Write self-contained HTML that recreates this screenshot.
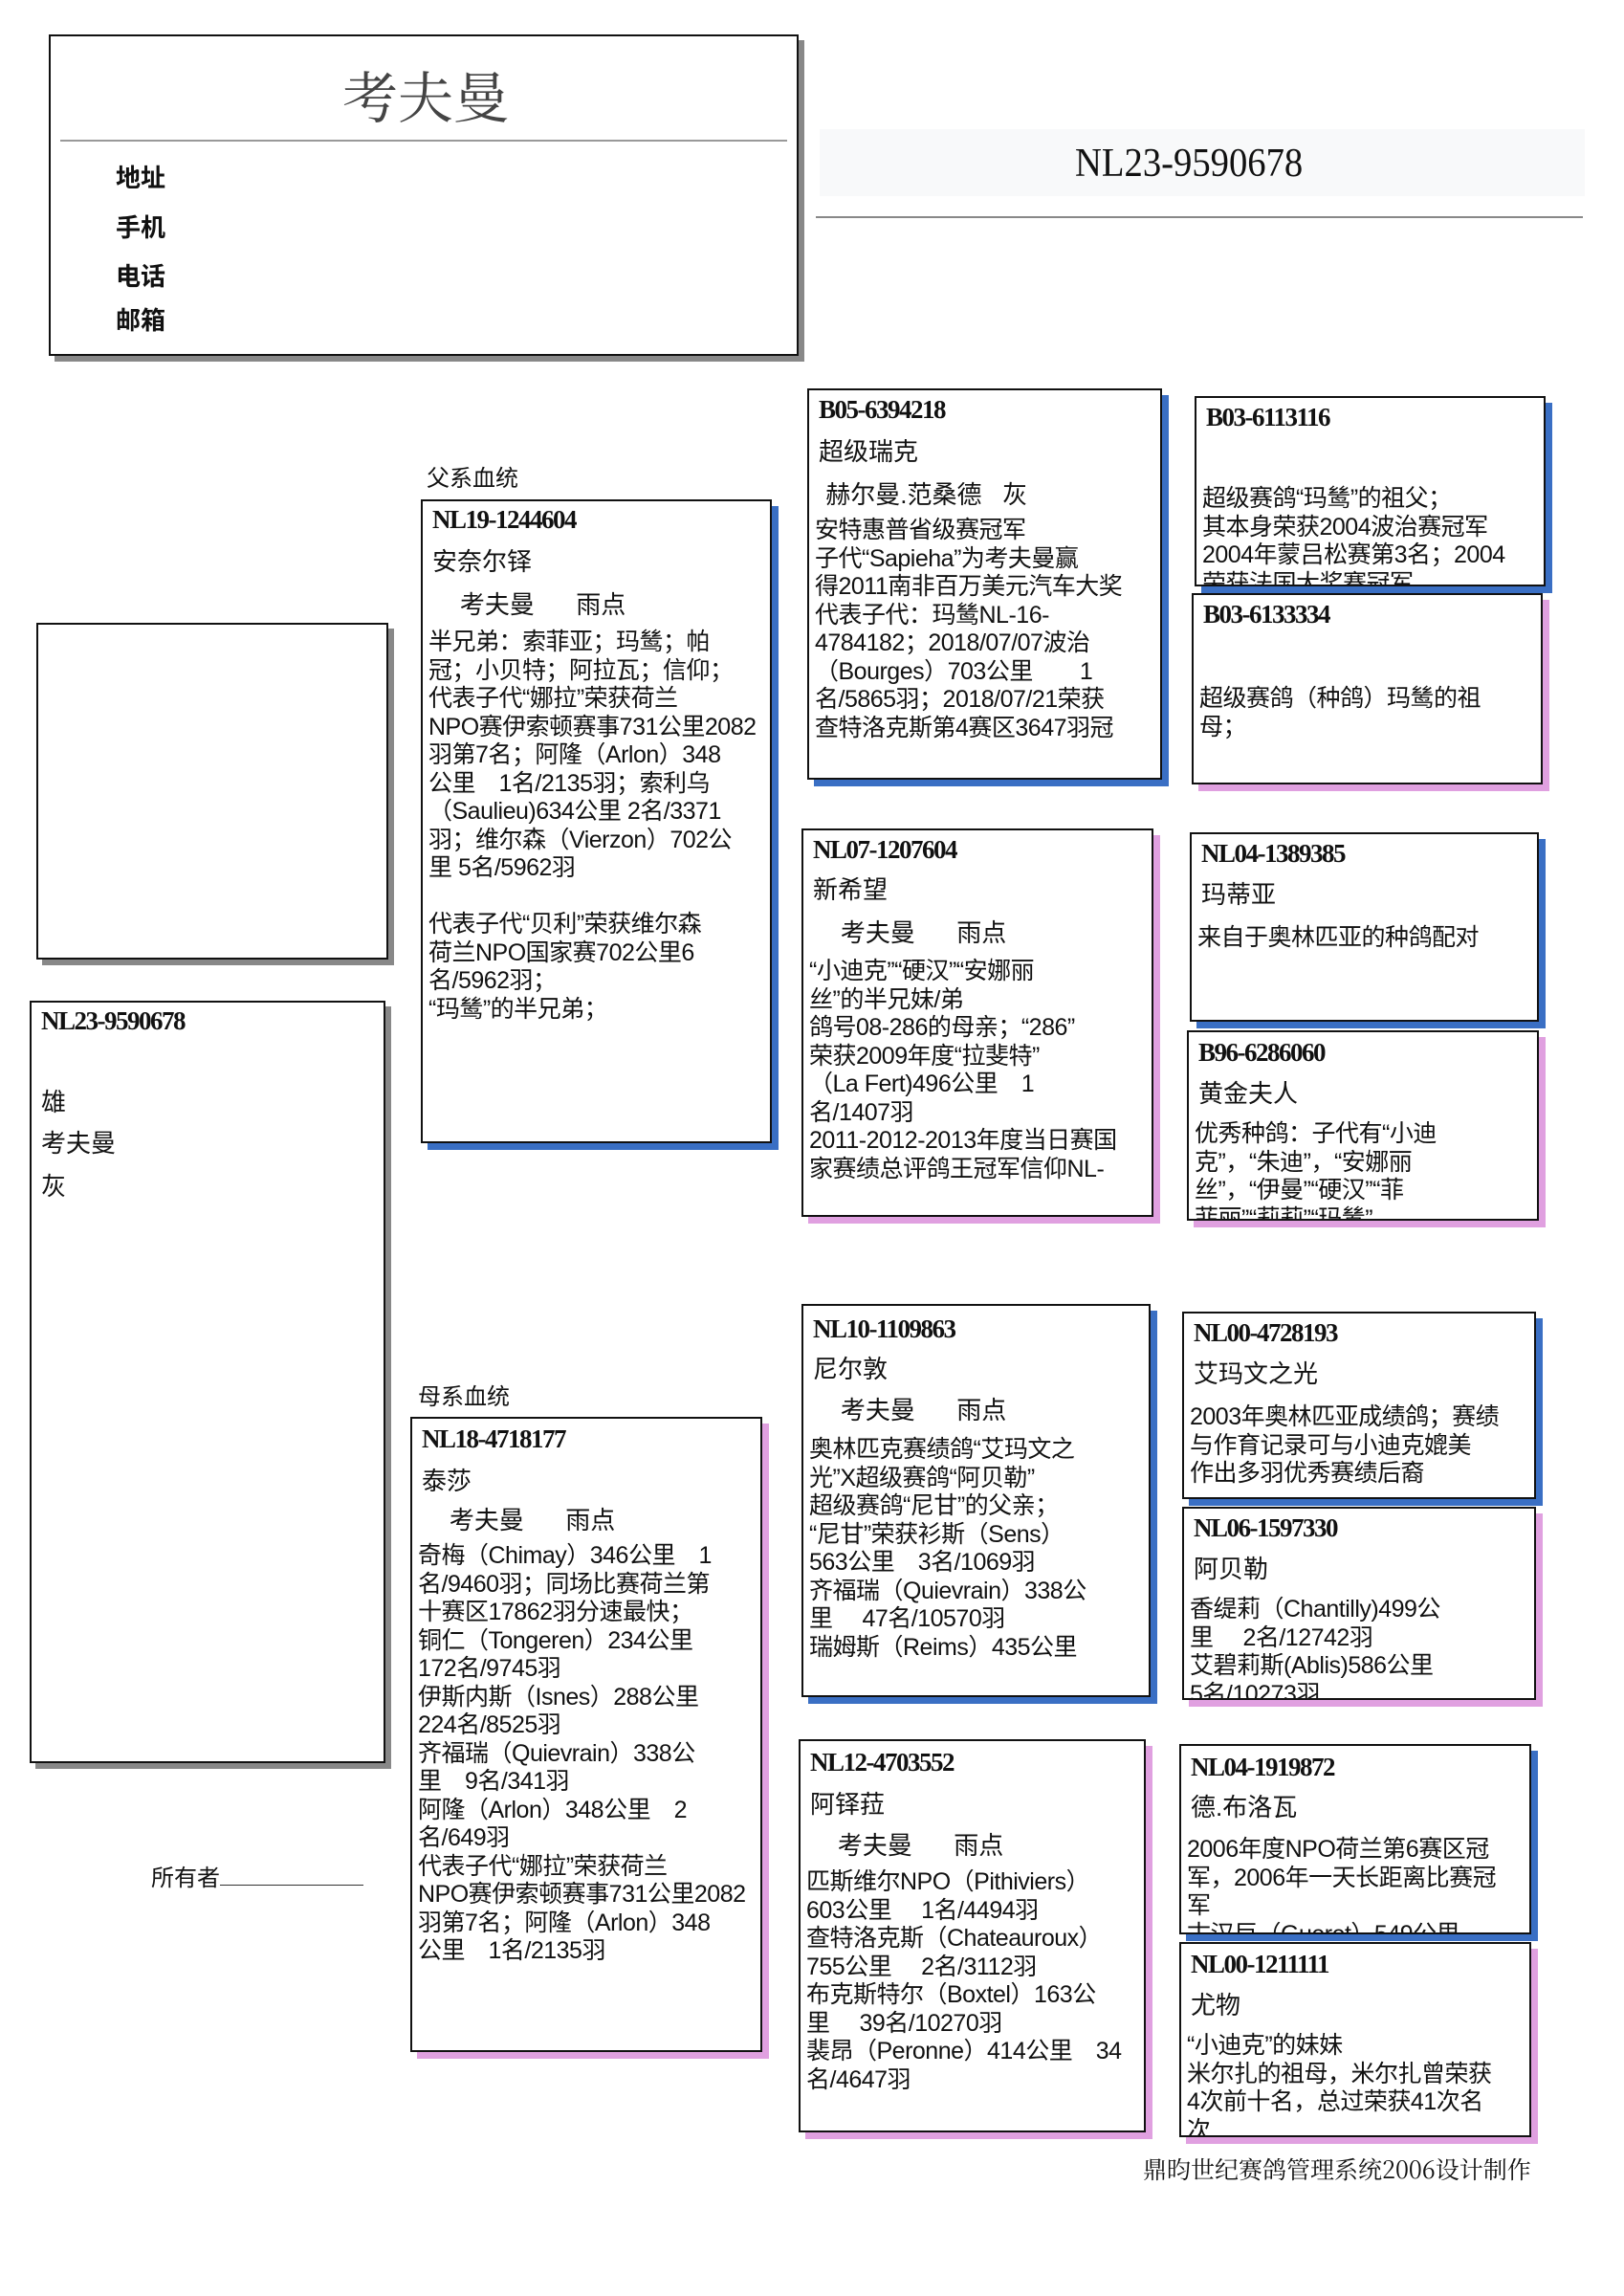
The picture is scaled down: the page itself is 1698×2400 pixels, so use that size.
<!DOCTYPE html>
<html><head><meta charset="utf-8"><style>
html,body{margin:0;padding:0;background:#fff;}
body{width:1698px;height:2400px;position:relative;overflow:hidden;font-family:"Liberation Sans","Noto Sans CJK SC",sans-serif;color:#111;}
.a{position:absolute;white-space:nowrap;}
.box{position:absolute;border:2px solid #111;background:#fff;overflow:hidden;box-sizing:border-box;}
.bl{box-shadow:7px 7px 0 #3a6fc4;}
.pk{box-shadow:7px 7px 0 #e0a0e0;}
.gr{box-shadow:6px 6px 0 #888;}
.box .t{position:absolute;left:10px;font:bold 27px/30px "Liberation Serif","Noto Sans CJK SC",serif;letter-spacing:-1.5px;}
.box .n{position:absolute;left:10px;font-size:26px;line-height:30px;white-space:nowrap;}
.box .x{position:absolute;left:6px;font-size:25px;line-height:29.5px;white-space:nowrap;letter-spacing:-0.5px;}
</style></head><body>

<!-- header -->
<div class="box gr" style="left:51px;top:36px;width:784px;height:336px;">
  <div class="a" style="left:305px;top:18px;font-size:58px;color:#444;font-family:'Noto Serif CJK SC',serif;">考夫曼</div>
  <div class="a" style="left:10px;top:108px;width:760px;border-top:2px solid #999;"></div>
  <div class="a" style="left:68px;top:133px;font-size:26px;font-weight:bold;line-height:30px;">地址</div>
  <div class="a" style="left:68px;top:185px;font-size:26px;font-weight:bold;line-height:30px;">手机</div>
  <div class="a" style="left:68px;top:236px;font-size:26px;font-weight:bold;line-height:30px;">电话</div>
  <div class="a" style="left:68px;top:282px;font-size:26px;font-weight:bold;line-height:30px;">邮箱</div>
</div>
<div class="a" style="left:857px;top:135px;width:800px;height:70px;background:#f8f9fa;"></div>
<div class="a" style="left:1124px;top:146px;font:42px/50px 'Liberation Serif',serif;transform:scaleX(0.92);transform-origin:left;">NL23-9590678</div>
<div class="a" style="left:853px;top:226px;width:802px;border-top:2px solid #888;"></div>

<!-- photo + info -->
<div class="box gr" style="left:38px;top:651px;width:368px;height:352px;"></div>
<div class="box gr" style="left:31px;top:1046px;width:372px;height:797px;">
  <div class="t" style="top:4px;">NL23-9590678</div>
  <div class="n" style="top:89px;">雄</div>
  <div class="n" style="top:132px;">考夫曼</div>
  <div class="n" style="top:177px;">灰</div>
</div>
<div class="a" style="left:158px;top:1943px;font-size:24px;">所有者<span style="display:inline-block;width:150px;border-bottom:1px solid #333;"></span></div>

<div class="a" style="left:446px;top:480px;font-size:24px;">父系血统</div>
<div class="box bl" style="left:440px;top:522px;width:367px;height:673px;">
  <div class="t" style="top:4px;">NL19-1244604</div>
  <div class="n" style="top:48px;">安奈尔铎</div>
  <div class="n" style="top:93px;">&nbsp;&nbsp;&nbsp;&nbsp;考夫曼&nbsp;&nbsp;&nbsp;&nbsp;&nbsp;&nbsp;雨点</div>
  <div class="x" style="top:133px;">半兄弟：索菲亚；玛鸶；帕<br>冠；小贝特；阿拉瓦；信仰；<br>代表子代“娜拉”荣获荷兰<br>NPO赛伊索顿赛事731公里2082<br>羽第7名；阿隆（Arlon）348<br>公里　1名/2135羽；索利乌<br>（Saulieu)634公里 2名/3371<br>羽；维尔森（Vierzon）702公<br>里 5名/5962羽<br><br>代表子代“贝利”荣获维尔森<br>荷兰NPO国家赛702公里6<br>名/5962羽；<br>“玛鸶”的半兄弟；</div>
</div>

<div class="a" style="left:437px;top:1440px;font-size:24px;">母系血统</div>
<div class="box pk" style="left:429px;top:1481px;width:368px;height:664px;">
  <div class="t" style="top:6px;">NL18-4718177</div>
  <div class="n" style="top:50px;">泰莎</div>
  <div class="n" style="top:91px;">&nbsp;&nbsp;&nbsp;&nbsp;考夫曼&nbsp;&nbsp;&nbsp;&nbsp;&nbsp;&nbsp;雨点</div>
  <div class="x" style="top:129px;">奇梅（Chimay）346公里　1<br>名/9460羽；同场比赛荷兰第<br>十赛区17862羽分速最快；<br>铜仁（Tongeren）234公里<br>172名/9745羽<br>伊斯内斯（Isnes）288公里<br>224名/8525羽<br>齐福瑞（Quievrain）338公<br>里　9名/341羽<br>阿隆（Arlon）348公里　2<br>名/649羽<br>代表子代“娜拉”荣获荷兰<br>NPO赛伊索顿赛事731公里2082<br>羽第7名；阿隆（Arlon）348<br>公里　1名/2135羽</div>
</div>

<!-- grandparents -->
<div class="box bl" style="left:844px;top:406px;width:371px;height:409px;">
  <div class="t" style="top:5px;">B05-6394218</div>
  <div class="n" style="top:49px;">超级瑞克</div>
  <div class="n" style="top:94px;">&nbsp;赫尔曼.范桑德&nbsp;&nbsp;&nbsp;灰</div>
  <div class="x" style="top:132px;">安特惠普省级赛冠军<br>子代“Sapieha”为考夫曼赢<br>得2011南非百万美元汽车大奖<br>代表子代：玛鸶NL-16-<br>4784182；2018/07/07波治<br>（Bourges）703公里　　1<br>名/5865羽；2018/07/21荣获<br>查特洛克斯第4赛区3647羽冠</div>
</div>
<div class="box pk" style="left:838px;top:866px;width:368px;height:406px;">
  <div class="t" style="top:5px;">NL07-1207604</div>
  <div class="n" style="top:47px;">新希望</div>
  <div class="n" style="top:92px;">&nbsp;&nbsp;&nbsp;&nbsp;考夫曼&nbsp;&nbsp;&nbsp;&nbsp;&nbsp;&nbsp;雨点</div>
  <div class="x" style="top:133px;">“小迪克”“硬汉”“安娜丽<br>丝”的半兄妹/弟<br>鸽号08-286的母亲；“286”<br>荣获2009年度“拉斐特”<br>（La Fert)496公里　1<br>名/1407羽<br>2011-2012-2013年度当日赛国<br>家赛绩总评鸽王冠军信仰NL-</div>
</div>
<div class="box bl" style="left:838px;top:1363px;width:365px;height:411px;">
  <div class="t" style="top:9px;">NL10-1109863</div>
  <div class="n" style="top:51px;">尼尔敦</div>
  <div class="n" style="top:94px;">&nbsp;&nbsp;&nbsp;&nbsp;考夫曼&nbsp;&nbsp;&nbsp;&nbsp;&nbsp;&nbsp;雨点</div>
  <div class="x" style="top:136px;">奥林匹克赛绩鸽“艾玛文之<br>光”X超级赛鸽“阿贝勒”<br>超级赛鸽“尼甘”的父亲；<br>“尼甘”荣获衫斯（Sens）<br>563公里　3名/1069羽<br>齐福瑞（Quievrain）338公<br>里　 47名/10570羽<br>瑞姆斯（Reims）435公里</div>
</div>
<div class="box pk" style="left:835px;top:1818px;width:363px;height:411px;">
  <div class="t" style="top:7px;">NL12-4703552</div>
  <div class="n" style="top:51px;">阿铎菈</div>
  <div class="n" style="top:94px;">&nbsp;&nbsp;&nbsp;&nbsp;考夫曼&nbsp;&nbsp;&nbsp;&nbsp;&nbsp;&nbsp;雨点</div>
  <div class="x" style="top:133px;">匹斯维尔NPO（Pithiviers）<br>603公里　 1名/4494羽<br>查特洛克斯（Chateauroux）<br>755公里　 2名/3112羽<br>布克斯特尔（Boxtel）163公<br>里　 39名/10270羽<br>裴昂（Peronne）414公里　34<br>名/4647羽</div>
</div>

<!-- great-grandparents -->
<div class="box bl" style="left:1249px;top:414px;width:367px;height:199px;">
  <div class="t" style="top:5px;">B03-6113116</div>
  <div class="x" style="top:91px;">超级赛鸽“玛鸶”的祖父；<br>其本身荣获2004波治赛冠军<br>2004年蒙吕松赛第3名；2004<br>荣获法国大奖赛冠军</div>
</div>
<div class="box pk" style="left:1246px;top:620px;width:367px;height:200px;">
  <div class="t" style="top:5px;">B03-6133334</div>
  <div class="x" style="top:94px;">超级赛鸽（种鸽）玛鸶的祖<br>母；</div>
</div>
<div class="box bl" style="left:1244px;top:870px;width:365px;height:198px;">
  <div class="t" style="top:5px;">NL04-1389385</div>
  <div class="n" style="top:48px;">玛蒂亚</div>
  <div class="x" style="top:94px;">来自于奥林匹亚的种鸽配对</div>
</div>
<div class="box pk" style="left:1241px;top:1077px;width:368px;height:199px;">
  <div class="t" style="top:6px;">B96-6286060</div>
  <div class="n" style="top:49px;">黄金夫人</div>
  <div class="x" style="top:92px;">优秀种鸽：子代有“小迪<br>克”，“朱迪”，“安娜丽<br>丝”，“伊曼”“硬汉”“菲<br>菲丽”“莉莉”“玛鸶”</div>
</div>
<div class="box bl" style="left:1236px;top:1371px;width:370px;height:196px;">
  <div class="t" style="top:5px;">NL00-4728193</div>
  <div class="n" style="top:48px;">艾玛文之光</div>
  <div class="x" style="top:94px;">2003年奥林匹亚成绩鸽；赛绩<br>与作育记录可与小迪克媲美<br>作出多羽优秀赛绩后裔</div>
</div>
<div class="box pk" style="left:1236px;top:1575px;width:370px;height:202px;">
  <div class="t" style="top:5px;">NL06-1597330</div>
  <div class="n" style="top:48px;">阿贝勒</div>
  <div class="x" style="top:91px;">香缇莉（Chantilly)499公<br>里　 2名/12742羽<br>艾碧莉斯(Ablis)586公里<br>5名/10273羽</div>
</div>
<div class="box bl" style="left:1233px;top:1823px;width:368px;height:199px;">
  <div class="t" style="top:7px;">NL04-1919872</div>
  <div class="n" style="top:49px;">德.布洛瓦</div>
  <div class="x" style="top:94px;">2006年度NPO荷兰第6赛区冠<br>军，2006年一天长距离比赛冠<br>军<br>古汉巨（Gueret）549公里</div>
</div>
<div class="box pk" style="left:1233px;top:2030px;width:368px;height:204px;">
  <div class="t" style="top:6px;">NL00-1211111</div>
  <div class="n" style="top:49px;">尤物</div>
  <div class="x" style="top:92px;">“小迪克”的妹妹<br>米尔扎的祖母，米尔扎曾荣获<br>4次前十名，总过荣获41次名<br>次</div>
</div>

<div class="a" style="left:1195px;top:2249px;font-size:25px;font-family:'Noto Serif CJK SC',serif;">鼎昀世纪赛鸽管理系统2006设计制作</div>
</body></html>
